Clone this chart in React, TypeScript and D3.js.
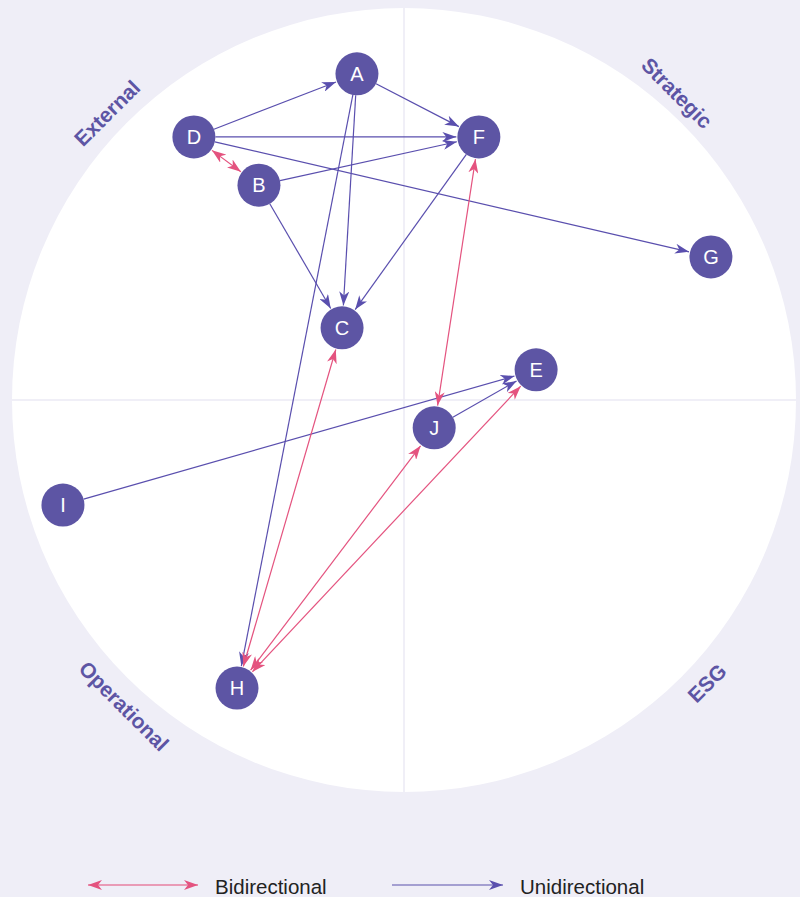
import React from "react";
import * as d3 from "d3";

const nodeNames = ["A", "B", "C", "D", "E", "F", "G", "H", "I", "J"];
const nodeX = [-12.0, -37.0, -15.8, -53.6, 33.7, 19.1, 78.3, -42.6, -87.0, 7.7];
const nodeY = [83.2, 54.8, 18.4, 67.1, 7.7, 67.1, 36.5, -73.5, -26.8, -7.1];

const uniSources = ["D", "D", "D", "A", "A", "A", "B", "B", "F", "I", "J"];
const uniTargets = ["A", "F", "G", "F", "C", "H", "F", "C", "C", "E", "E"];

const biSources = ["D", "F", "C", "J", "E"];
const biTargets = ["B", "J", "H", "H", "H"];

const quadrantLabels = ["External", "Strategic", "Operational", "ESG"];
const legendLabels = ["Bidirectional", "Unidirectional"];

const W = 800;
const H = 897;
const CX = 404;
const CY = 400;
const R = 392;
const NODE_R = 21.5;
const PURPLE = "#5d55a4";
const EDGE_PURPLE = "#5a4fae";
const PINK = "#e4537f";
const BG = "#efeef7";

export default function App() {
  const x = d3.scaleLinear().domain([-100, 100]).range([CX - R, CX + R]);
  const y = d3.scaleLinear().domain([-100, 100]).range([CY + R, CY - R]);
  const pos: Record<string, [number, number]> = {};
  nodeNames.forEach((n, i) => (pos[n] = [x(nodeX[i]), y(nodeY[i])]));

  const seg = (a: string, b: string, gapA: number, gapB: number) => {
    const [x1, y1] = pos[a];
    const [x2, y2] = pos[b];
    const dx = x2 - x1, dy = y2 - y1;
    const L = Math.hypot(dx, dy);
    const ux = dx / L, uy = dy / L;
    return { x1: x1 + ux * gapA, y1: y1 + uy * gapA, x2: x2 - ux * gapB, y2: y2 - uy * gapB };
  };

  const labelPos: [number, number, number][] = [
    [107, 113, -45],
    [677, 93, 45],
    [124, 706, 45],
    [707, 683, -45],
  ];

  return (
    <svg width={W} height={H} style={{ position: "absolute", left: 0, top: 0, display: "block" }}
      fontFamily="'Liberation Sans', Arial, Helvetica, sans-serif">
      <defs>
        <marker id="arrP" viewBox="0 0 14 10" refX="14" refY="5" markerWidth="14" markerHeight="10"
          markerUnits="userSpaceOnUse" orient="auto">
          <path d="M0,0 L14,5 L0,10 L4,5 Z" fill={EDGE_PURPLE} />
        </marker>
        <marker id="arrK" viewBox="0 0 14 10" refX="14" refY="5" markerWidth="14" markerHeight="10"
          markerUnits="userSpaceOnUse" orient="auto-start-reverse">
          <path d="M0,0 L14,5 L0,10 L4,5 Z" fill={PINK} />
        </marker>
      </defs>
      <rect x={0} y={0} width={W} height={H} fill={BG} />
      <circle cx={CX} cy={CY} r={R} fill="#ffffff" />
      <line x1={CX} x2={CX} y1={CY - R} y2={CY + R} stroke="#ebeaf4" strokeWidth={1.5} />
      <line x1={CX - R} x2={CX + R} y1={CY} y2={CY} stroke="#ebeaf4" strokeWidth={1.5} />

      {quadrantLabels.map((t, i) => (
        <text key={t} x={labelPos[i][0]} y={labelPos[i][1]} transform={`rotate(${labelPos[i][2]},${labelPos[i][0]},${labelPos[i][1]})`}
          textAnchor="middle" dominantBaseline="central" fontSize={21} fontWeight="bold" fill={PURPLE}>
          {t}
        </text>
      ))}

      {uniSources.map((s, i) => {
        const g = seg(s, uniTargets[i], NODE_R, NODE_R + 1);
        return <line key={"u" + i} {...g} stroke={EDGE_PURPLE} strokeWidth={1.2} markerEnd="url(#arrP)" />;
      })}
      {biSources.map((s, i) => {
        const g = seg(s, biTargets[i], NODE_R + 1, NODE_R + 1);
        return <line key={"b" + i} {...g} stroke={PINK} strokeWidth={1.2} markerStart="url(#arrK)" markerEnd="url(#arrK)" />;
      })}

      {nodeNames.map((n) => (
        <g key={n} transform={`translate(${pos[n][0]},${pos[n][1]})`}>
          <circle r={NODE_R} fill={PURPLE} />
          <text textAnchor="middle" dominantBaseline="central" fill="#ffffff" fontSize={20}>{n}</text>
        </g>
      ))}

      <g>
        <line x1={88} x2={198} y1={885} y2={885} stroke="#e77fa0" strokeWidth={1.5} markerStart="url(#arrK)" markerEnd="url(#arrK)" />
        <text x={215} y={886} dominantBaseline="central" fontSize={20.5} fill="#222">{legendLabels[0]}</text>
        <line x1={392} x2={503} y1={885} y2={885} stroke="#8b84c4" strokeWidth={1.5} markerEnd="url(#arrP)" />
        <text x={520} y={886} dominantBaseline="central" fontSize={20.5} fill="#222">{legendLabels[1]}</text>
      </g>
    </svg>
  );
}
